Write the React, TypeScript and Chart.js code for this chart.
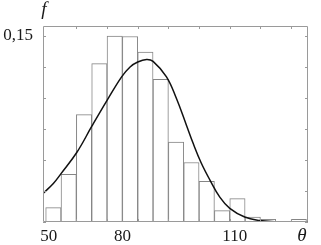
import React, { useEffect, useRef } from "react";
import { Chart, registerables } from "chart.js";

Chart.register(...registerables);

// Histogram: bin centres (θ) and relative frequencies f
const binCenters = [62, 66, 70, 74, 78, 82, 86, 90, 94, 98, 102, 106, 110, 114, 118, 122, 126];
const binFreq = [0.0116, 0.0385, 0.0866, 0.1277, 0.1498, 0.1495, 0.137, 0.115, 0.0645, 0.048, 0.0328, 0.0092, 0.0189, 0.004, 0.0022, 0, 0.0022];

// Fitted density curve
const curveTheta = [59.3, 62.0, 64.0, 68.1, 72.0, 76.0, 79.8, 82.0, 84.0, 86.3, 88.0, 91.5, 94.1, 96.7, 98.5, 100.5, 102.8, 105.4, 108.0, 111.9, 115.8, 119.7, 124.0, 128.4];
const curveF = [0.023, 0.031, 0.039, 0.056, 0.077, 0.098, 0.117, 0.125, 0.129, 0.131, 0.1295, 0.117, 0.0995, 0.078, 0.063, 0.048, 0.034, 0.02, 0.011, 0.004, 0.0012, 0.0003, 0.0001, 0];

// Axis ticks
const xTickValues = [60.8, 80, 109.3];
const xTickLabels = ["50", "80", "110"];
const yTickValues = [0, 0.025, 0.05, 0.075, 0.1, 0.125, 0.15];
const yTickLabels = ["", "", "", "", "", "", "0,15"];
const frameTickTheta = [68, 76, 84, 92, 100, 108, 116, 124];
const xAxisTitle = "θ";
const yAxisTitle = "f";

const SERIF = '"Liberation Serif", "DejaVu Serif", serif';

const framePlugin = {
  id: "frame",
  afterDatasetsDraw(chart: any) {
    const { ctx, chartArea, scales } = chart;
    const { left, right, top, bottom } = chartArea;
    const x = scales.x;
    const y = scales.y;
    ctx.save();
    ctx.strokeStyle = "#9a9a9a";
    ctx.lineWidth = 1;
    ctx.beginPath();
    ctx.rect(left + 0.5, top + 0.5, right - left - 1, bottom - top - 1);
    ctx.stroke();
    ctx.beginPath();
    for (const v of frameTickTheta) {
      const px = Math.round(x.getPixelForValue(v)) + 0.5;
      ctx.moveTo(px, top);
      ctx.lineTo(px, top + 3);
      ctx.moveTo(px, bottom);
      ctx.lineTo(px, bottom - 3);
    }
    for (const v of yTickValues) {
      const py = Math.round(y.getPixelForValue(v)) + 0.5;
      ctx.moveTo(left, py);
      ctx.lineTo(left + 3, py);
      ctx.moveTo(right, py);
      ctx.lineTo(right - 3, py);
    }
    ctx.stroke();
    ctx.restore();
  },
  afterDraw(chart: any) {
    const { ctx, chartArea } = chart;
    const { left, right, top, bottom } = chartArea;
    ctx.save();
    ctx.fillStyle = "#1a1a1a";
    ctx.textAlign = "center";
    ctx.textBaseline = "middle";
    ctx.font = `italic 19px ${SERIF}`;
    ctx.fillText(yAxisTitle, left + 1, top - 16);
    ctx.fillText(xAxisTitle, right - 6, bottom + 14);
    ctx.restore();
  },
};

export default function App() {
  const ref = useRef<HTMLCanvasElement | null>(null);

  useEffect(() => {
    const canvas = ref.current;
    if (!canvas) return;
    const chart = new Chart(canvas, {
      type: "bar",
      data: {
        datasets: [
          {
            type: "line",
            data: curveTheta.map((t, i) => ({ x: t, y: curveF[i] })),
            borderColor: "#111111",
            borderWidth: 1.5,
            pointRadius: 0,
            fill: false,
            tension: 0.4,
            order: 0,
          } as any,
          {
            type: "bar",
            data: binCenters.map((c, i) => ({ x: c, y: binFreq[i] })),
            backgroundColor: "#ffffff",
            borderColor: "#858585",
            borderWidth: 1,
            barPercentage: 1,
            categoryPercentage: 1,
            order: 1,
          } as any,
        ],
      },
      options: {
        animation: false,
        responsive: false,
        events: [],
        layout: { padding: { top: 26, right: 13, bottom: 0, left: 0 } },
        plugins: { legend: { display: false }, tooltip: { enabled: false }, title: { display: false } },
        scales: {
          x: {
            type: "linear",
            min: 59.3,
            max: 128.4,
            offset: false,
            grid: { display: false, drawTicks: false },
            border: { display: false },
            ticks: {
              autoSkip: false,
              maxRotation: 0,
              padding: 4,
              color: "#1a1a1a",
              font: { family: SERIF, size: 17 },
              callback: (_v: any, i: number) => xTickLabels[i],
            },
            afterBuildTicks: (s: any) => {
              s.ticks = xTickValues.map((v) => ({ value: v }));
            },
            afterFit: (s: any) => {
              s.height = 23;
            },
          },
          y: {
            type: "linear",
            min: 0,
            max: 0.158,
            grid: { display: false, drawTicks: false },
            border: { display: false },
            ticks: {
              autoSkip: false,
              padding: 10,
              color: "#1a1a1a",
              font: { family: SERIF, size: 17 },
              callback: (_v: any, i: number) => yTickLabels[i],
            },
            afterBuildTicks: (s: any) => {
              s.ticks = yTickValues.map((v) => ({ value: v }));
            },
            afterFit: (s: any) => {
              s.width = 43;
            },
          },
        },
      },
      plugins: [framePlugin],
    });
    return () => chart.destroy();
  }, []);

  return (
    <div style={{ position: "fixed", left: 0, top: 0, width: 321, height: 245, background: "#fff" }}>
      <canvas ref={ref} width={321} height={245} style={{ display: "block" }} />
    </div>
  );
}
